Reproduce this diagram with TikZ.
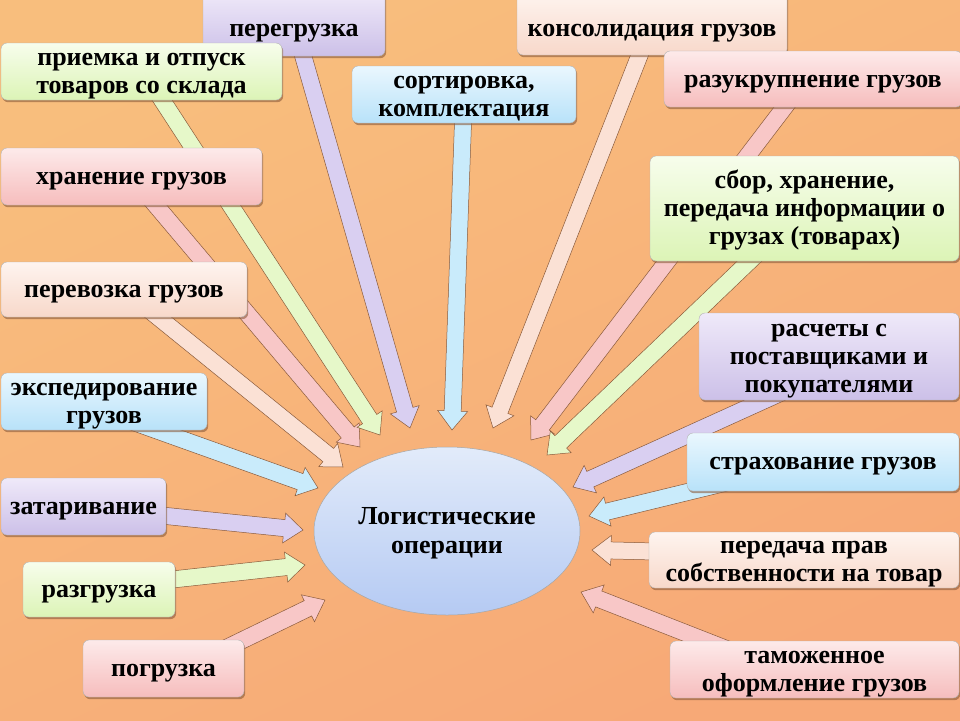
\documentclass[tikz,border=0pt]{standalone}
\usepackage{fontspec}
\setmainfont{Liberation Serif}
\usetikzlibrary{calc,shapes.geometric,shadows}
\pgfdeclarelayer{bglayer}
\pgfdeclarelayer{arrowlayer}
\pgfsetlayers{bglayer,arrowlayer,main}

\definecolor{bgA}{HTML}{F8BE7D}
\definecolor{bgB}{HTML}{F7A977}
\definecolor{shd}{HTML}{8A5A3A}
\definecolor{lavT}{HTML}{EFE9F9}\definecolor{lavB}{HTML}{CCC0E8}\definecolor{lavA}{HTML}{D9CFF1}
\definecolor{grnT}{HTML}{F7FDEC}\definecolor{grnB}{HTML}{DCF4B6}\definecolor{grnA}{HTML}{E6F8C9}
\definecolor{pnkT}{HTML}{FDEAEA}\definecolor{pnkB}{HTML}{F6BDBD}\definecolor{pnkA}{HTML}{F8C7C7}
\definecolor{pchT}{HTML}{FEF4EF}\definecolor{pchB}{HTML}{F8D8CA}\definecolor{pchA}{HTML}{FBE1D5}
\definecolor{bluT}{HTML}{EAF7FE}\definecolor{bluB}{HTML}{B8E2F9}\definecolor{bluA}{HTML}{C9EBFB}
\definecolor{ellT}{HTML}{E2EBFA}\definecolor{ellB}{HTML}{B5CAF3}

\tikzset{
  box/.style={rounded corners=6pt, draw=black!30, line width=0.4pt, align=center,
    inner sep=0pt, font=\bfseries\fontsize{26}{28}\selectfont,
    text height=20pt, text depth=5pt,
    drop shadow={shadow xshift=1.2pt, shadow yshift=-2.2pt, fill=shd, opacity=0.6}},
  twolines/.style={text height=48pt},
  threelines/.style={text height=76pt},
  lav/.style={top color=lavT, bottom color=lavB},
  grn/.style={top color=grnT, bottom color=grnB},
  pnk/.style={top color=pnkT, bottom color=pnkB},
  pch/.style={top color=pchT, bottom color=pchB},
  blu/.style={top color=bluT, bottom color=bluB},
  barrow/.style={draw=shd, line width=0.5pt, line join=miter},
}

\newcommand\blockarrow[3]{%
  \coordinate (ba-s) at (#2);
  \coordinate (ba-t) at (#3);
  \coordinate (ba-b) at ($(ba-t)!19pt!(ba-s)$);
  \draw[barrow, fill=#1]
    ($(ba-s)!8.5pt!90:(ba-t)$) -- ($(ba-b)!8.5pt!90:(ba-t)$) --
    ($(ba-b)!15pt!90:(ba-t)$) -- (ba-t) --
    ($(ba-b)!15pt!-90:(ba-t)$) -- ($(ba-b)!8.5pt!-90:(ba-t)$) --
    ($(ba-s)!8.5pt!-90:(ba-t)$) -- cycle;
}

\begin{document}
\begin{tikzpicture}[x=1pt, y=-1pt]
\useasboundingbox (0,0) rectangle (960,720);

% central ellipse
\node[ellipse, draw=black!35, line width=0.5pt, top color=ellT, bottom color=ellB,
      minimum width=266pt, minimum height=168pt, align=center,
      text height=49pt, text depth=5pt,
      font=\bfseries\fontsize{26}{29}\selectfont] (ell) at (447,531) {Логистические\\операции};

% boxes
\node[box, lav, minimum width=182pt, minimum height=64pt, text height=30pt] (pereg)  at (294,24) {перегрузка};
\node[box, pch, minimum width=270pt, minimum height=63pt, text height=30pt] (konsol) at (652,23.5) {консолидация грузов};
\node[box, grn, twolines, minimum width=281pt, minimum height=57pt] (priem)  at (141.5,71.5){приемка и отпуск\\товаров со склада};
\node[box, blu, twolines, minimum width=224pt, minimum height=57pt] (sort)   at (464,94.5)  {сортировка,\\комплектация};
\node[box, pnk, minimum width=298pt, minimum height=56pt, text height=22pt] (razuk)  at (813,79) {разукрупнение грузов};
\node[box, pnk, minimum width=261pt, minimum height=57pt] (hran)   at (131.5,176.5){хранение грузов};
\node[box, grn, threelines, minimum width=309pt, minimum height=105pt] (sbor)  at (804.5,208.5){сбор, хранение,\\передача информации о\\грузах (товарах)};
\node[box, pch, minimum width=246pt, minimum height=55pt] (perev)  at (124,289.5) {перевозка грузов};
\node[box, lav, threelines, minimum width=260pt, minimum height=87pt] (rasch)  at (829,356.5) {расчеты с\\поставщиками и\\покупателями};
\node[box, blu, twolines, minimum width=206pt, minimum height=57pt] (exped)  at (104,401.5) {экспедирование\\грузов};
\node[box, blu, minimum width=272pt, minimum height=58pt] (strah)  at (823,462)   {страхование грузов};
\node[box, lav, minimum width=165pt, minimum height=57pt] (zatar)  at (83.5,506.5){затаривание};
\node[box, pch, twolines, minimum width=310pt, minimum height=56pt] (pered)  at (804,560)   {передача прав\\собственности на товар};
\node[box, grn, minimum width=152pt, minimum height=55pt] (razgr)  at (99,589.5)  {разгрузка};
\node[box, pnk, minimum width=161pt, minimum height=57pt] (pogr)   at (163.5,668.5){погрузка};
\node[box, pnk, twolines, minimum width=289pt, minimum height=57pt] (tamozh) at (814.5,669.5){таможенное\\оформление грузов};

\begin{pgfonlayer}{bglayer}
  \shade[top color=bgA, bottom color=bgB, shading angle=25] (-2,-2) rectangle (962,722);
\end{pgfonlayer}

\begin{pgfonlayer}{arrowlayer}
  \coordinate (t-pereg)  at (410,428);
  \coordinate (t-sort)   at (452,430);
  \coordinate (t-konsol) at (493,428);
  \coordinate (t-razuk)  at (531,440);
  \coordinate (t-sbor)   at (547,455);
  \coordinate (t-rasch)  at (573,487);
  \coordinate (t-strah)  at (589,516);
  \coordinate (t-pered)  at (592,550);
  \coordinate (t-tamozh) at (581,592);
  \coordinate (t-pogr)   at (325,600);
  \coordinate (t-razgr)  at (305,565);
  \coordinate (t-zatar)  at (303,530);
  \coordinate (t-exped)  at (318,488);
  \coordinate (t-perev)  at (343,467);
  \coordinate (t-hran)   at (360,447);
  \coordinate (t-priem)  at (380,435);

  \blockarrow{pchA}{$(perev)+(0,0)$}{t-perev}
  \blockarrow{pnkA}{$(hran)+(0,0)$}{t-hran}
  \blockarrow{grnA}{$(priem)+(0,-3)$}{t-priem}
  \blockarrow{lavA}{$(pereg)+(0,0)$}{t-pereg}
  \blockarrow{bluA}{$(sort)+(0,0)$}{t-sort}
  \blockarrow{pchA}{$(konsol)+(0,0)$}{t-konsol}
  \blockarrow{pnkA}{$(razuk)+(-7,0)$}{t-razuk}
  \blockarrow{grnA}{$(sbor)+(0,0)$}{t-sbor}
  \blockarrow{lavA}{$(rasch)+(1,14)$}{t-rasch}
  \blockarrow{bluA}{$(strah)+(0,-3)$}{t-strah}
  \blockarrow{pchA}{$(pered)+(0,-5)$}{t-pered}
  \blockarrow{pnkA}{$(tamozh)+(0,14)$}{t-tamozh}
  \blockarrow{pnkA}{$(pogr)+(0,10)$}{t-pogr}
  \blockarrow{grnA}{$(razgr)+(0,-2)$}{t-razgr}
  \blockarrow{lavA}{$(zatar)+(0,1)$}{t-zatar}
  \blockarrow{bluA}{$(exped)+(0,10)$}{t-exped}
\end{pgfonlayer}
\end{tikzpicture}
\end{document}
